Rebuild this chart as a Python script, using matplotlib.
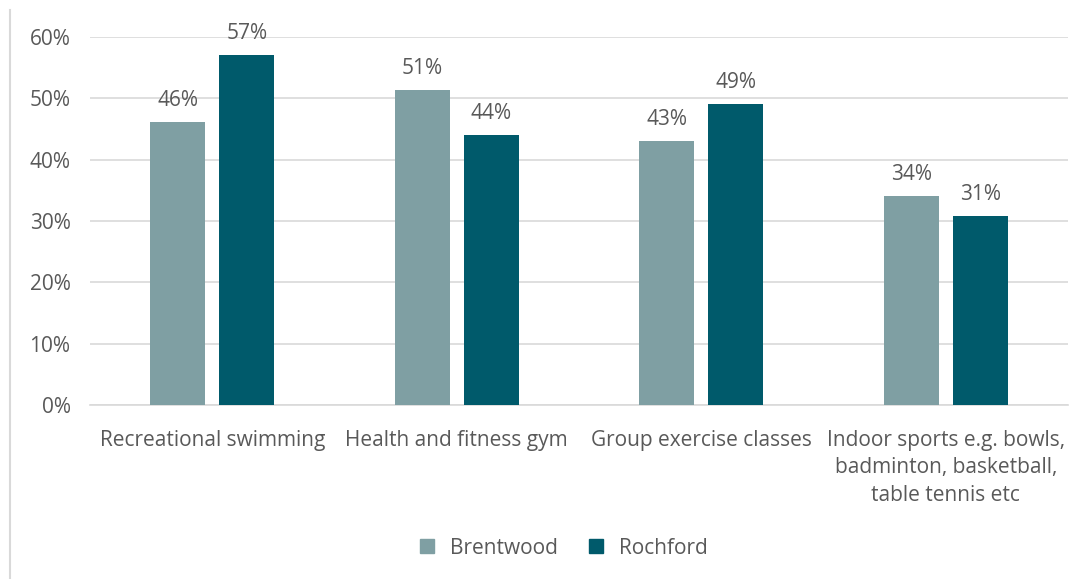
import matplotlib.pyplot as plt
from matplotlib.lines import Line2D
from matplotlib.ticker import PercentFormatter
import numpy as np

plt.rcParams["font.family"] = ["Open Sans", "DejaVu Sans"]

# Share of respondents using each facility type
categories = ["Recreational swimming", "Health and fitness gym",
              "Group exercise classes",
              "Indoor sports e.g. bowls,\nbadminton, basketball,\ntable tennis etc"]
brentwood = [46.1, 51.3, 43.1, 34.1]
rochford = [57.0, 44.0, 49.0, 30.8]
series = ["Brentwood", "Rochford"]
colors = ["#7F9FA3", "#005A6B"]
text_color = "#595959"
fs = 15

fig = plt.figure(figsize=(10.84, 5.79), dpi=100)
ax = fig.add_axes([90 / 1084, 1 - 405 / 579, 978 / 1084, 368 / 579])

x = np.arange(len(categories))
width = 0.225
offset = 0.141

for vals, off, col, name in zip([brentwood, rochford], [-offset, offset], colors, series):
    bars = ax.bar(x + off, vals, width, color=col, label=name, zorder=3)
    for b, v in zip(bars, vals):
        ax.text(b.get_x() + b.get_width() / 2, v + 1.8, f"{round(v):.0f}%",
                ha="center", va="bottom", fontsize=fs, color=text_color)

ax.set_xlim(-0.5, len(categories) - 0.5)
ax.set_ylim(0, 60)
ax.set_yticks(range(0, 61, 10))
ax.yaxis.set_major_formatter(PercentFormatter(decimals=0))
ax.set_xticks(x)
ax.set_xticklabels(categories, fontsize=fs, color=text_color, linespacing=1.4)
ax.tick_params(axis="y", labelsize=fs, labelcolor=text_color, length=0, pad=14)
ax.tick_params(axis="x", length=0, pad=18)
ax.grid(axis="y", color="#D9D9D9", linewidth=1.2, zorder=0)
for s in ["top", "right", "left"]:
    ax.spines[s].set_visible(False)
ax.spines["bottom"].set_color("#D9D9D9")
ax.spines["bottom"].set_linewidth(1.2)

# Legend along the bottom
handles = [Line2D([], [], marker="s", linestyle="none", markersize=10.5,
                  markerfacecolor=c, markeredgecolor=c) for c in colors]
fig.legend(handles, series, loc="center", bbox_to_anchor=(0.514, 1 - 548 / 579),
           ncol=2, frameon=False, fontsize=fs, labelcolor=text_color,
           handletextpad=0.1, columnspacing=0.85)

# Thin frame edge on the left
fig.add_artist(Line2D([10 / 1084, 10 / 1084], [0, 1 - 10 / 579],
                      transform=fig.transFigure, color="#D9D9D9", linewidth=1.5))

fig.savefig("out.png", dpi=100)
